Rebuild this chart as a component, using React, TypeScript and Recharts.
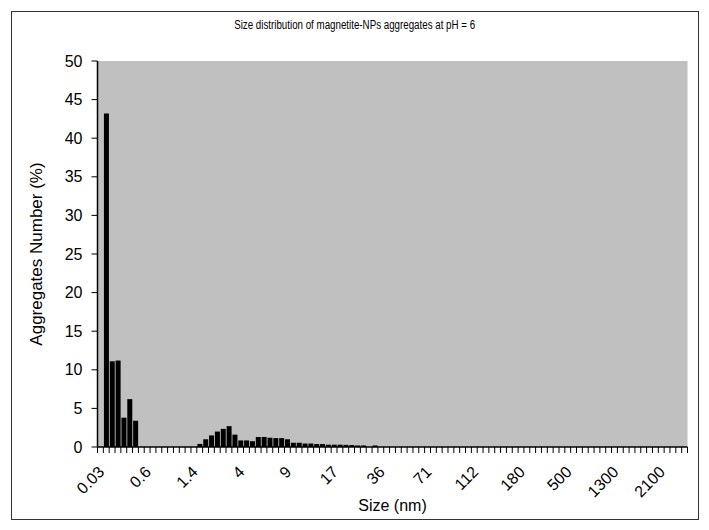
import React from "react";
import { BarChart, Bar, XAxis, YAxis, CartesianGrid } from "recharts";

// ---- data ----
const sizeTickLabels = ["0.03", "0.6", "1.4", "4", "9", "17", "36", "71", "112", "180", "500", "1300", "2100"];
const LABEL_EVERY = 8;

// Aggregates number (%) per size class (101 classes)
const aggregatesPct = [
  0, 43.2, 11.1, 11.2, 3.8, 6.2, 3.4, 0, 0, 0,
  0, 0, 0, 0, 0, 0, 0, 0.4, 1.0, 1.5,
  2.0, 2.35, 2.7, 1.6, 0.85, 0.85, 0.75, 1.3, 1.3, 1.2,
  1.15, 1.15, 1.0, 0.55, 0.55, 0.45, 0.45, 0.38, 0.38, 0.3,
  0.3, 0.3, 0.28, 0.25, 0.2, 0.2, 0, 0.2, 0, 0,
  0, 0, 0, 0, 0, 0, 0, 0, 0, 0,
  0, 0, 0, 0, 0, 0, 0, 0, 0, 0,
  0, 0, 0, 0, 0, 0, 0, 0, 0, 0,
  0, 0, 0, 0, 0, 0, 0, 0, 0, 0,
  0, 0, 0, 0, 0, 0, 0, 0, 0, 0,
  0,
];

const yTicks = [0, 5, 10, 15, 20, 25, 30, 35, 40, 45, 50];

const data = aggregatesPct.map((v, i) => ({
  label: i % LABEL_EVERY === 0 ? sizeTickLabels[i / LABEL_EVERY] ?? "" : "",
  value: v,
}));

// ---- layout ----
const W = 709;
const H = 530;
const PLOT_LEFT = 97.5;
const PLOT_RIGHT = 687.5;
const PLOT_TOP = 61;
const PLOT_BOTTOM = 447;
const N = aggregatesPct.length;
const STEP = (PLOT_RIGHT - PLOT_LEFT) / N;
const FONT = "'Liberation Sans', Arial, sans-serif";

function XTick(props: any) {
  const { x, index, payload } = props;
  const half = STEP / 2;
  const lab = payload && payload.value;
  const tx = x + 1;
  const ty = 469;
  return (
    <g>
      <line x1={x - half} x2={x - half} y1={PLOT_BOTTOM} y2={PLOT_BOTTOM + 6} stroke="#000" strokeWidth={1} />
      {index === N - 1 && (
        <line x1={x + half} x2={x + half} y1={PLOT_BOTTOM} y2={PLOT_BOTTOM + 6} stroke="#000" strokeWidth={1} />
      )}
      {lab ? (
        <text
          x={tx}
          y={ty}
          dy="0.35em"
          textAnchor="end"
          transform={`rotate(-45 ${tx} ${ty})`}
          fontSize={16}
          fontFamily={FONT}
          fill="#000"
        >
          {lab}
        </text>
      ) : null}
    </g>
  );
}

export default function App() {
  return (
    <div style={{ position: "absolute", left: 0, top: 0, width: W, height: H, background: "#fff", fontFamily: FONT }}>
      <div
        style={{
          position: "absolute",
          left: 11,
          top: 11,
          width: 686,
          height: 507,
          border: "1px solid #333",
        }}
      />
      <div
        style={{
          position: "absolute",
          left: 0,
          top: 18,
          width: W,
          textAlign: "center",
          fontSize: 12.5,
          lineHeight: "15px",
          color: "#000",
          transform: "scaleX(0.78)",
          transformOrigin: "355px 0",
        }}
      >
        Size distribution of magnetite-NPs aggregates at pH = 6
      </div>
      <div style={{ position: "absolute", left: 0, top: 0 }}>
        <BarChart
          width={W}
          height={H}
          data={data}
          margin={{ top: PLOT_TOP, right: W - PLOT_RIGHT, left: 0, bottom: 0 }}
          barCategoryGap="10%"
        >
          <CartesianGrid fill="#C0C0C0" horizontal={false} vertical={false} />
          <XAxis
            xAxisId="top"
            orientation="top"
            dataKey="label"
            height={0}
            tick={false}
            tickLine={false}
            axisLine={{ stroke: "#808080", strokeWidth: 2 }}
          />
          <YAxis
            yAxisId="r"
            orientation="right"
            width={0}
            domain={[0, 50]}
            tick={false}
            tickLine={false}
            axisLine={{ stroke: "#808080", strokeWidth: 2 }}
          />
          <XAxis
            dataKey="label"
            height={H - PLOT_BOTTOM}
            interval={0}
            tickLine={false}
            axisLine={{ stroke: "#000", strokeWidth: 1.5 }}
            tick={<XTick />}
            label={{ value: "Size (nm)", position: "insideBottom", offset: 19, fontSize: 16, fill: "#000", fontFamily: FONT }}
          />
          <YAxis
            width={PLOT_LEFT}
            domain={[0, 50]}
            ticks={yTicks}
            interval={0}
            tickSize={6}
            tickMargin={9}
            tickLine={{ stroke: "#000" }}
            axisLine={{ stroke: "#000", strokeWidth: 1.5 }}
            tick={{ fontSize: 16, fill: "#000", fontFamily: FONT }}
            label={{
              value: "Aggregates Number (%)",
              angle: -90,
              position: "insideLeft",
              offset: 36,
              fontSize: 17,
              fill: "#000",
              fontFamily: FONT,
              style: { textAnchor: "middle" },
            }}
          />
          <Bar dataKey="value" fill="#000" isAnimationActive={false} />
        </BarChart>
      </div>
    </div>
  );
}
